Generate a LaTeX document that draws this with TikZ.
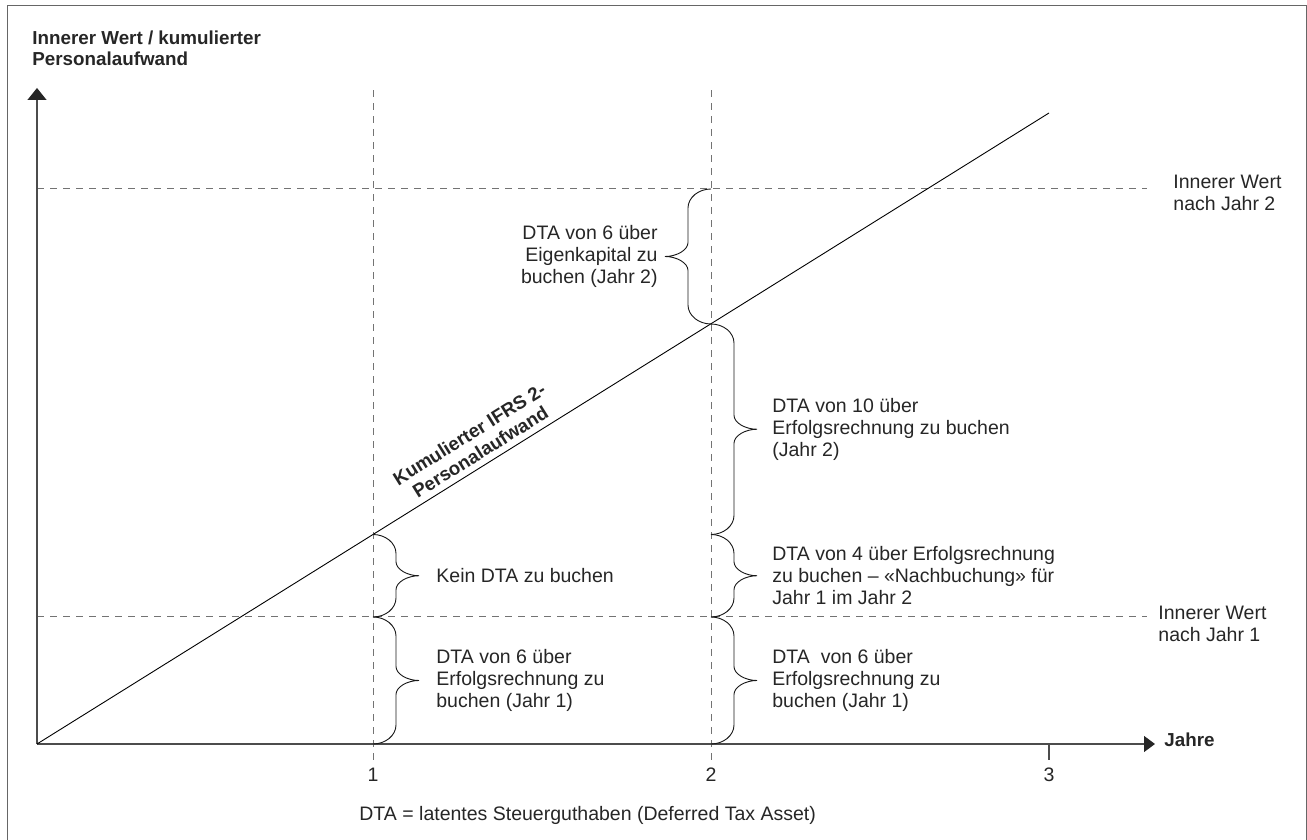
\documentclass[tikz,border=0pt]{standalone}
\usepackage{fontspec}
\setmainfont{Liberation Sans}
\usetikzlibrary{arrows.meta,positioning,calc}

\tikzset{
  txt/.style={font=\fontsize{9.75}{11}\selectfont, text=black!85, inner sep=0pt, align=left},
  hdr/.style={font=\fontsize{9.4}{10.5}\selectfont\bfseries, text=black!85, inner sep=0pt, align=left},
  guide/.style={draw=black!55, line width=0.5pt, dash pattern=on 3.5pt off 3pt},
  axis/.style={draw=black!70, line width=0.65pt},
  kline/.style={draw=black, line width=0.45pt},
  bracel/.style={draw=black!90, line width=0.45pt},
  frame/.style={draw=black!60, line width=0.5pt},
}

% curly brace from #2 (top) to #3 (bottom), #1 = 1 opens right, -1 opens left
\newcommand{\dtabrace}[3]{%
  \draw[bracel] let \p1=(#2), \p2=(#3) in
    (\p1) .. controls ({\x1+(#1)*6.3pt},\y1) and ({\x1+(#1)*11.5pt},{\y1-4.3pt}) ..
    ({\x1+(#1)*11.5pt},{\y1-9.5pt}) -- ({\x1+(#1)*11.5pt},{(\y1+\y2)/2+7pt})
    .. controls ({\x1+(#1)*11.5pt},{(\y1+\y2)/2+3.2pt}) and ({\x1+(#1)*17.2pt},{(\y1+\y2)/2}) ..
    ({\x1+(#1)*23pt},{(\y1+\y2)/2})
    .. controls ({\x1+(#1)*17.2pt},{(\y1+\y2)/2}) and ({\x1+(#1)*11.5pt},{(\y1+\y2)/2-3.2pt}) ..
    ({\x1+(#1)*11.5pt},{(\y1+\y2)/2-7pt}) -- ({\x1+(#1)*11.5pt},{\y2+9.5pt})
    .. controls ({\x1+(#1)*11.5pt},{\y2+4.3pt}) and ({\x1+(#1)*6.3pt},\y2) .. (\p2);
}

\begin{document}
\begin{tikzpicture}[x=0.5pt, y=0.5pt]
  \useasboundingbox (-37,-96) rectangle (1270,744);
  \draw[frame] (-29,-110) rectangle (1269,738);

  \coordinate (o) at (0,0);
  \coordinate (t1) at (336,0);
  \coordinate (t2) at (674,0);
  \coordinate (t3) at (1012,0);
  \coordinate (k1) at (336,209.5);
  \coordinate (k1r) at (674,209.5);
  \coordinate (k2) at (674,420);
  \coordinate (k3) at (1012,631);
  \coordinate (w1) at (336,127);
  \coordinate (w2) at (674,127);
  \coordinate (e2) at (674,555);

  % guide lines
  \draw[guide] (336,-16) -- (336,656);
  \draw[guide] (674,-16) -- (674,656);
  \draw[guide] (0,127) -- (1110,127);
  \draw[guide] (0,555) -- (1110,555);

  % axes
  \draw[axis, -{Triangle[length=6pt,width=9.5pt,color=black!85]}] (o) -- (0,656);
  \draw[axis, -{Triangle[length=5.5pt,width=8pt,color=black!85]}] (o) -- (1118,0);
  \draw[axis] (t3) -- (1012,-16);

  \draw[kline] (o) -- node[hdr, pos=0.445, sloped, above=3pt, align=center] (kumlbl) {Kumulierter IFRS 2-\\Personalaufwand} (k3);

  % braces
  \dtabrace{1}{k1}{w1}
  \dtabrace{1}{w1}{t1}
  \dtabrace{-1}{e2}{k2}
  \dtabrace{1}{k2}{k1r}
  \dtabrace{1}{k1r}{w2}
  \dtabrace{1}{w2}{t2}

  \coordinate (m1) at ($(k1)!0.5!(w1)$);
  \coordinate (m2) at ($(w1)!0.5!(t1)$);
  \coordinate (m3) at ($(e2)!0.5!(k2)$);
  \coordinate (m4) at ($(k2)!0.5!(k1r)$);
  \coordinate (m5) at ($(k1r)!0.5!(w2)$);
  \coordinate (m6) at ($(w2)!0.5!(t2)$);

  \node[txt, right=31.5pt of m1] (kein) {Kein DTA zu buchen};
  \node[txt, right=31.5pt of m2] (dta6a) {DTA von 6 über\\Erfolgsrechnung zu\\buchen (Jahr 1)};
  \node[txt, left=26.5pt of m3, align=right] (dtaek) {DTA von 6 über\\Eigenkapital zu\\buchen (Jahr 2)};
  \node[txt, right=30.5pt of m4] (dta10) {DTA von 10 über\\Erfolgsrechnung zu buchen\\(Jahr 2)};
  \node[txt, right=30.5pt of m5] (dta4) {DTA von 4 über Erfolgsrechnung\\zu buchen – «Nachbuchung» für\\Jahr 1 im Jahr 2};
  \node[txt, right=30.5pt of m6] (dta6b) {DTA~ von 6 über\\Erfolgsrechnung zu\\buchen (Jahr 1)};

  \node[txt, anchor=west] (iw2) at (1136,551) {Innerer Wert\\nach Jahr 2};
  \node[txt, anchor=west] (iw1) at (1121,120) {Innerer Wert\\nach Jahr 1};

  \node[hdr, anchor=north west] (title) at (-5,714) {Innerer Wert / kumulierter\\Personalaufwand};
  \node[hdr, anchor=base west] (jahre) at (1127,-3) {Jahre};

  \node[txt] (y1) at (336,-31) {1};
  \node[txt] (y2) at (674,-31) {2};
  \node[txt] (y3) at (1012,-31) {3};

  \node[txt, anchor=west] (note) at (322,-71) {DTA = latentes Steuerguthaben (Deferred Tax Asset)};
\end{tikzpicture}
\end{document}
